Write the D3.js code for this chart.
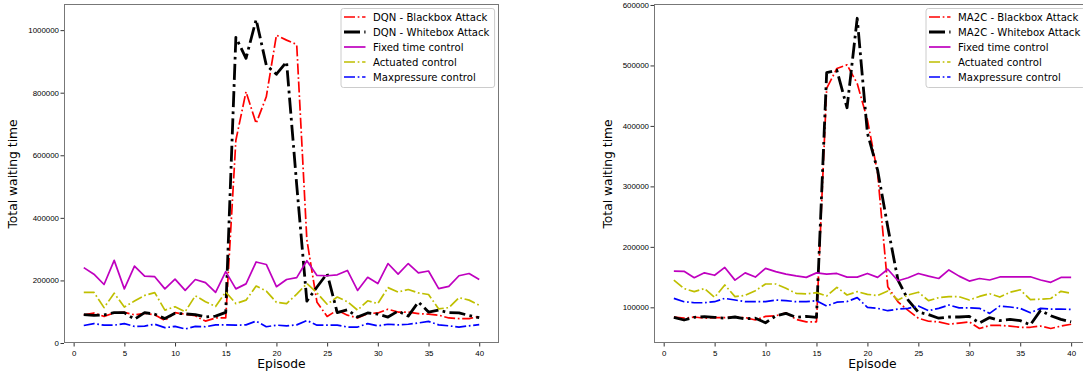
<!DOCTYPE html>
<html lang="en">
<head>
  <meta charset="UTF-8">
  <title>waiting time</title>
  <style>
    body { margin: 0; background: #fff; }
    svg { display: block; font-family: "DejaVu Sans", sans-serif; }
    .tick text { font-size: 7.9px; fill: #000; }
    .tick line { stroke: #000; stroke-width: 0.8; }
    .axis-label { font-size: 12.3px; fill: #000; }
    .legend-text { font-size: 10.1px; fill: #000; }
  </style>
</head>
<body>
  <svg width="1083" height="374"></svg>

  <script src="https://d3js.org/d3.v7.min.js"></script>
  <script>
  // 1. data
  var episodes = [1, 2, 3, 4, 5, 6, 7, 8, 9, 10, 11, 12, 13, 14, 15, 16, 17, 18, 19, 20,
                  21, 22, 23, 24, 25, 26, 27, 28, 29, 30, 31, 32, 33, 34, 35, 36, 37, 38, 39, 40];

  var dqnBlackbox = [90000, 96000, 85000, 96000, 98000, 90000, 95000, 90000, 72000, 97000,
                     92000, 87000, 70000, 80000, 80000, 648000, 803000, 702000, 787000, 984000,
                     968000, 954000, 330000, 130000, 85000, 105000, 89000, 80000, 94000, 96000,
                     108000, 99000, 99000, 94000, 92000, 89000, 80000, 78000, 78000, 85000];
  var dqnWhitebox = [91000, 88000, 90000, 97000, 97000, 76000, 97000, 92000, 78000, 95000,
                     93000, 91000, 83000, 86000, 98000, 977000, 910000, 1034000, 888000, 859000,
                     899000, 505000, 134000, 179000, 222000, 97000, 106000, 83000, 96000, 92000,
                     83000, 102000, 86000, 131000, 99000, 105000, 97000, 96000, 88000, 81000];
  var dqnFixed = [241000, 220000, 187000, 264000, 173000, 246000, 214000, 212000, 173000, 204000,
                  168000, 203000, 193000, 162000, 228000, 173000, 189000, 259000, 251000, 180000,
                  203000, 209000, 263000, 216000, 215000, 218000, 232000, 168000, 210000, 190000,
                  254000, 220000, 254000, 224000, 230000, 174000, 181000, 215000, 222000, 203000];
  var dqnActuated = [162000, 162000, 113000, 159000, 115000, 134000, 152000, 161000, 105000, 116000,
                     100000, 151000, 132000, 117000, 163000, 126000, 137000, 182000, 166000, 130000,
                     126000, 156000, 190000, 160000, 124000, 147000, 132000, 105000, 135000, 126000,
                     177000, 163000, 171000, 160000, 155000, 109000, 113000, 145000, 137000, 121000];
  var dqnMaxpressure = [56000, 62000, 57000, 57000, 62000, 53000, 54000, 60000, 49000, 53000,
                        45000, 53000, 52000, 58000, 58000, 57000, 58000, 70000, 52000, 57000,
                        55000, 58000, 72000, 57000, 57000, 57000, 51000, 51000, 62000, 55000,
                        60000, 58000, 60000, 64000, 69000, 58000, 55000, 51000, 55000, 59000];

  var ma2cBlackbox = [84000, 82000, 84000, 82000, 83000, 83000, 84000, 83000, 79000, 85000,
                      86000, 91000, 80000, 76000, 76000, 462000, 495000, 501000, 470000, 410000,
                      322000, 134000, 109000, 95000, 82000, 77000, 76000, 72000, 74000, 76000,
                      65000, 70000, 70000, 69000, 67000, 67000, 69000, 65000, 69000, 72000];
  var ma2cWhitebox = [83500, 79000, 83500, 84600, 83500, 82000, 84000, 81000, 82000, 74500,
                      85700, 90000, 83500, 85000, 83500, 488000, 492000, 430000, 578000, 388000,
                      327000, 233000, 145000, 112000, 92000, 88000, 82000, 84000, 84000, 85000,
                      74000, 83000, 78000, 80000, 78000, 71000, 95000, 86000, 80000, 76000];
  var ma2cFixed = [160000, 159500, 149000, 157000, 153000, 166000, 145000, 157000, 150000, 164500,
                   159000, 155000, 152000, 149500, 157000, 155000, 156000, 150000, 150000, 156000,
                   149500, 163000, 144000, 149000, 156000, 151600, 147700, 161800, 151600, 143400,
                   147700, 145200, 150200, 150200, 150200, 150500, 145200, 141300, 149400, 149400];
  var ma2cActuated = [145000, 131000, 126000, 131000, 116500, 137000, 117600, 119800, 127500, 138600,
                      138600, 131400, 123200, 122100, 124300, 118700, 133100, 120400, 125900, 121500,
                      119500, 127000, 112100, 120400, 125000, 111000, 116000, 117600, 117600, 112100,
                      118000, 122500, 117000, 125000, 129000, 112600, 113500, 114600, 126500, 123200];
  var ma2cMaxpressure = [114800, 109300, 107600, 107600, 109300, 114800, 112100, 109300, 109300, 109300,
                         112100, 111000, 109300, 109300, 111000, 102000, 108500, 109500, 116000, 100000,
                         98300, 94400, 97000, 98300, 102100, 94400, 98300, 103800, 99000, 99000,
                         98300, 90000, 102100, 100500, 98300, 91000, 98300, 97000, 97000, 96700];

  var xTicks = [0, 5, 10, 15, 20, 25, 30, 35, 40];
  var leftYTicks = [0, 200000, 400000, 600000, 800000, 1000000];
  var rightYTicks = [100000, 200000, 300000, 400000, 500000, 600000];

  var leftNames = ["DQN - Blackbox Attack", "DQN - Whitebox Attack", "Fixed time control",
                   "Actuated control", "Maxpressure control"];
  var rightNames = ["MA2C - Blackbox Attack", "MA2C - Whitebox Attack", "Fixed time control",
                    "Actuated control", "Maxpressure control"];

  // line styles, one per series (same order as the names)
  var styles = [
    { color: "#ff0000", width: 1.7, dash: "11,2.7,1.7,2.7" },
    { color: "#000000", width: 2.8, dash: "16,4.3,2.7,4.3" },
    { color: "#bf00bf", width: 1.7, dash: null },
    { color: "#bfbf00", width: 1.7, dash: "11,2.7,1.7,2.7" },
    { color: "#0000ff", width: 1.7, dash: "11,2.7,1.7,2.7" }
  ];

  var svg = d3.select("svg");

  // 2. one panel = axes box + lines + legend
  function drawPanel(p, id) {
    var x = d3.scaleLinear().domain([-0.95, 41.95]).range([p.left, p.right]);
    var y = d3.scaleLinear().domain(p.yDomain).range([p.bottom, p.top]);

    svg.append("clipPath").attr("id", id)
      .append("rect")
      .attr("x", p.left).attr("y", p.top)
      .attr("width", p.right - p.left).attr("height", p.bottom - p.top);

    var line = d3.line()
      .x(function(d, i) { return x(episodes[i]); })
      .y(function(d) { return y(d); });

    var g = svg.append("g").attr("clip-path", "url(#" + id + ")");
    p.series.forEach(function(s, i) {
      g.append("path")
        .attr("d", line(s))
        .attr("fill", "none")
        .attr("stroke", styles[i].color)
        .attr("stroke-width", styles[i].width)
        .attr("stroke-dasharray", styles[i].dash)
        .attr("stroke-linejoin", "round");
    });

    // axes
    svg.append("g")
      .attr("transform", "translate(0," + p.bottom + ")")
      .call(d3.axisBottom(x).tickValues(xTicks).tickFormat(d3.format("d"))
        .tickSize(3.5).tickPadding(3.5).tickSizeOuter(0))
      .call(function(a) { a.select(".domain").remove(); });

    svg.append("g")
      .attr("transform", "translate(" + p.left + ",0)")
      .call(d3.axisLeft(y).tickValues(p.yTicks).tickFormat(d3.format("d"))
        .tickSize(3.5).tickPadding(1.5).tickSizeOuter(0))
      .call(function(a) { a.select(".domain").remove(); });

    // spines
    svg.append("rect")
      .attr("x", p.left + 0.5).attr("y", p.top + 0.5)
      .attr("width", p.right - p.left - 1).attr("height", p.bottom - p.top - 1)
      .attr("fill", "none")
      .attr("stroke", "#777")
      .attr("stroke-width", 1);

    // axis labels
    svg.append("text")
      .attr("class", "axis-label")
      .attr("text-anchor", "middle")
      .attr("x", (p.left + p.right) / 2)
      .attr("y", 368)
      .text("Episode");

    svg.append("text")
      .attr("class", "axis-label")
      .attr("text-anchor", "middle")
      .attr("transform", "translate(" + p.yLabelX + ",174) rotate(-90)")
      .text("Total waiting time");

    // legend
    var lg = svg.append("g").attr("transform", "translate(" + p.legendX + ",8)");
    lg.append("rect")
      .attr("x", 0.5).attr("y", 0.5)
      .attr("width", p.legendW).attr("height", 79)
      .attr("rx", 2.5)
      .attr("fill", "#fff").attr("fill-opacity", 0.8)
      .attr("stroke", "#ccc");

    p.names.forEach(function(name, i) {
      var cy = 9 + i * 15;
      lg.append("line")
        .attr("x1", 3.5).attr("x2", 25)
        .attr("y1", cy).attr("y2", cy)
        .attr("stroke", styles[i].color)
        .attr("stroke-width", styles[i].width)
        .attr("stroke-dasharray", styles[i].dash);
      lg.append("text")
        .attr("class", "legend-text")
        .attr("x", 32.6)
        .attr("y", cy + 3.6)
        .text(name);
    });
  }

  drawPanel({
    left: 64, right: 499, top: 4, bottom: 343,
    yDomain: [0, 1083500], yTicks: leftYTicks,
    series: [dqnBlackbox, dqnWhitebox, dqnFixed, dqnActuated, dqnMaxpressure],
    names: leftNames, yLabelX: 17, legendX: 340.5, legendW: 153.6
  }, "clipL");

  drawPanel({
    left: 654, right: 1091, top: 4, bottom: 343,
    yDomain: [41000, 601600], yTicks: rightYTicks,
    series: [ma2cBlackbox, ma2cWhitebox, ma2cFixed, ma2cActuated, ma2cMaxpressure],
    names: rightNames, yLabelX: 612, legendX: 925.5, legendW: 159.4
  }, "clipR");
  </script>
</body>
</html>
